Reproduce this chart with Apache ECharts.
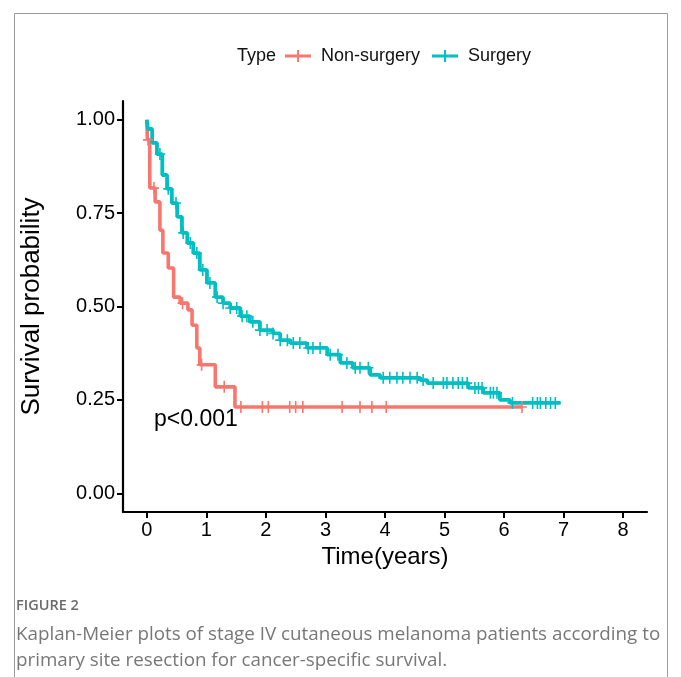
<!DOCTYPE html>
<html><head><meta charset="utf-8">
<script src="https://cdn.jsdelivr.net/npm/echarts@6/dist/echarts.min.js"></script>
<style>html,body{margin:0;padding:0;background:#fff}#c{width:681px;height:677px}</style>
</head><body><div id="c"></div>
<script>
// ---- data ----
const xTicks = [0, 1, 2, 3, 4, 5, 6, 7, 8];
const yTicks = [0, 0.25, 0.5, 0.75, 1];

const surgeryTime = [0, 0.02, 0.09, 0.17, 0.26, 0.34, 0.42, 0.51, 0.59, 0.68, 0.78, 0.89, 1.01, 1.15, 1.28, 1.40, 1.57, 1.73, 1.90, 2.12, 2.24, 2.41, 2.69, 3.03, 3.25, 3.46, 3.75, 3.92, 4.59, 4.71, 5.40, 5.65, 5.93, 6.10, 6.95];
const surgerySurv = [1.0, 0.975, 0.938, 0.908, 0.852, 0.815, 0.777, 0.740, 0.697, 0.670, 0.643, 0.598, 0.563, 0.525, 0.509, 0.496, 0.474, 0.459, 0.437, 0.428, 0.410, 0.402, 0.389, 0.371, 0.349, 0.336, 0.317, 0.309, 0.303, 0.295, 0.282, 0.269, 0.250, 0.242, 0.242];
const surgeryCensor = [0.22, 0.36, 0.49, 0.61, 0.73, 0.84, 0.94, 1.06, 1.18, 1.28, 1.40, 1.51, 1.60, 1.68, 1.78, 1.90, 2.02, 2.12, 2.24, 2.36, 2.46, 2.57, 2.71, 2.79, 2.91, 3.08, 3.21, 3.36, 3.50, 3.58, 3.72, 3.97, 4.08, 4.20, 4.30, 4.42, 4.54, 4.64, 4.81, 4.98, 5.04, 5.14, 5.23, 5.30, 5.38, 5.51, 5.57, 5.63, 5.77, 5.82, 5.88, 6.14, 6.48, 6.56, 6.61, 6.70, 6.78, 6.86];

const nonSurgeryTime = [0, 0.01, 0.05, 0.14, 0.22, 0.27, 0.36, 0.45, 0.56, 0.69, 0.76, 0.84, 0.89, 1.15, 1.48, 6.30];
const nonSurgerySurv = [1.0, 0.946, 0.817, 0.780, 0.704, 0.643, 0.603, 0.525, 0.509, 0.491, 0.450, 0.389, 0.344, 0.285, 0.231, 0.231];
const nonSurgeryCensor = [0.02, 0.12, 0.60, 0.92, 1.30, 1.58, 1.94, 2.04, 2.40, 2.50, 2.62, 3.28, 3.58, 3.78, 4.02, 6.30];

const seriesNames = ['Non-surgery', 'Surgery'];
const colors = ['#F8766D', '#00BFC4'];

// ---- helpers ----
function stepAt(times, surv, t) {
  let s = surv[0];
  for (let i = 0; i < times.length; i++) { if (times[i] <= t) s = surv[i]; else break; }
  return s;
}
function zip(a, b) { return a.map((v, i) => [v, b[i]]); }
function censorPts(c, times, surv) { return c.map(t => [t, stepAt(times, surv, t)]); }

const plusPath = 'path://M0,4.3 H10 V5.7 H0 Z M4.2,0 H5.8 V10 H4.2 Z';
const legendIcon = 'path://M0,4.5 H26 V7.5 H0 Z M12,0 H14 V12 H12 Z';

const chart = echarts.init(document.getElementById('c'), null, {renderer: 'canvas'});
const FONT = '"Liberation Sans", Arial, sans-serif';
const CAP = '"Open Sans", sans-serif';

chart.setOption({
  animation: false,
  backgroundColor: '#fff',
  textStyle: {fontFamily: FONT},
  grid: {left: 123, right: 34, top: 101, bottom: 165, containLabel: false},
  legend: {
    left: 285, top: 47, padding: 0, itemGap: 12, itemWidth: 26, itemHeight: 12,
    textStyle: {fontSize: 18, color: '#111', fontFamily: FONT},
    formatter: n => ' ' + n,
    data: seriesNames.map((n, i) => ({name: n, icon: legendIcon, itemStyle: {color: colors[i]}}))
  },
  xAxis: {
    type: 'value', min: -0.4, max: 8.4,
    name: 'Time(years)', nameLocation: 'middle', nameGap: 31,
    nameTextStyle: {fontSize: 24, color: '#000', fontFamily: FONT},
    axisLine: {onZero: false, lineStyle: {color: '#000', width: 2.2}},
    axisTick: {show: true, length: 6, lineStyle: {color: '#000', width: 2}, customValues: xTicks},
    axisLabel: {fontSize: 20, color: '#000', margin: 8, customValues: xTicks, formatter: v => String(v)},
    splitLine: {show: false}
  },
  yAxis: {
    type: 'value', min: -0.05, max: 1.05,
    name: 'Survival probability', nameLocation: 'middle', nameGap: 78, nameRotate: 90,
    nameTextStyle: {fontSize: 26, color: '#000', fontFamily: FONT},
    axisLine: {onZero: false, lineStyle: {color: '#000', width: 2.2}},
    axisTick: {show: true, length: 6, lineStyle: {color: '#000', width: 2}, customValues: yTicks},
    axisLabel: {fontSize: 20, color: '#000', margin: 8, customValues: yTicks, formatter: v => v.toFixed(2)},
    splitLine: {show: false}
  },
  series: [
    {name: seriesNames[0], type: 'line', step: 'end', showSymbol: false, symbol: 'none',
     data: zip(nonSurgeryTime, nonSurgerySurv), lineStyle: {color: colors[0], width: 3.6}, itemStyle: {color: colors[0]}, z: 2},
    {name: seriesNames[1], type: 'line', step: 'end', showSymbol: false, symbol: 'none',
     data: zip(surgeryTime, surgerySurv), lineStyle: {color: colors[1], width: 3.8}, itemStyle: {color: colors[1]}, z: 3},
    {name: seriesNames[0], type: 'scatter', symbol: plusPath, symbolSize: [10, 12],
     data: censorPts(nonSurgeryCensor, nonSurgeryTime, nonSurgerySurv), itemStyle: {color: colors[0], opacity: 1}, z: 4},
    {name: seriesNames[1], type: 'scatter', symbol: plusPath, symbolSize: [10, 12],
     data: censorPts(surgeryCensor, surgeryTime, surgerySurv), itemStyle: {color: colors[1], opacity: 1}, z: 5}
  ],
  graphic: [
    {type: 'rect', shape: {x: 14.5, y: 13.5, width: 653, height: 700}, style: {fill: 'none', stroke: '#9a9a9a', lineWidth: 1}, silent: true},
    {type: 'text', x: 237, y: 56, style: {text: 'Type', font: '18px ' + FONT, fill: '#111', verticalAlign: 'middle'}},
    {type: 'text', x: 154, y: 420, style: {text: 'p<0.001', font: '23px ' + FONT, fill: '#000', verticalAlign: 'middle'}},
    {type: 'text', x: 16, y: 606, style: {text: 'FIGURE 2', font: '600 14.5px ' + CAP, fill: '#6b6b6b', verticalAlign: 'middle'}},
    {type: 'text', x: 16, y: 635, style: {text: 'Kaplan-Meier plots of stage IV cutaneous melanoma patients according to', font: '18.8px ' + CAP, fill: '#777', verticalAlign: 'middle'}},
    {type: 'text', x: 16, y: 661, style: {text: 'primary site resection for cancer-specific survival.', font: '18.8px ' + CAP, fill: '#777', verticalAlign: 'middle'}}
  ]
});
</script></body></html>
